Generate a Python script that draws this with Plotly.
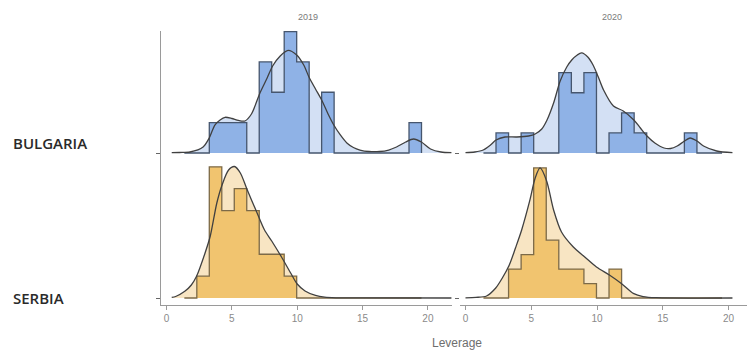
import plotly.graph_objects as go

W, H = 747, 355

# ---------------- data ----------------
years = ["2019", "2020"]
countries = ["BULGARIA", "SERBIA"]

bin_edges = [1.365, 2.32, 3.275, 4.23, 5.185, 6.14, 7.095, 8.05, 9.005, 9.96,
             10.915, 11.87, 12.825, 13.78, 14.735, 15.69, 16.645, 17.6, 18.555, 19.51]
bin_width = 0.955

bulgaria_2019_counts = [0, 0, 1, 1, 1, 0, 3, 2, 4, 3, 0, 2, 0, 0, 0, 0, 0, 0, 1]
bulgaria_2020_counts = [0, 1, 0, 1, 0, 0, 4, 3, 4, 0, 1, 2, 1, 0, 0, 0, 1, 0, 0]
serbia_2019_counts = [0, 1, 6, 4, 5, 4, 2, 2, 1, 0, 0, 0, 0, 0, 0, 0, 0, 0, 0]
serbia_2020_counts = [0, 0, 2, 3, 9, 4, 2, 2, 1, 0, 2, 0, 0, 0, 0, 0, 0, 0, 0]

bulgaria_2019_dx = [0.4, 1.0, 1.8, 2.8, 3.27, 3.7, 4.1, 4.48, 5.0, 5.5, 6.0, 6.5, 7.15, 7.7,
                    8.12, 8.7, 9.3, 9.96, 10.5, 10.9, 11.4, 11.87, 12.4, 12.8, 13.3, 13.8,
                    14.3, 14.8, 15.5, 16.3, 17.0, 17.6, 18.3, 18.9, 19.5, 20.2, 21.0, 21.8]
bulgaria_2019_dy = [0.0006, 0.001, 0.0019, 0.0115, 0.0287, 0.0536, 0.0632, 0.0684, 0.0661,
                    0.0623, 0.0613, 0.0747, 0.115, 0.1437, 0.1667, 0.1858, 0.1966, 0.1877,
                    0.1686, 0.1456, 0.1226, 0.1015, 0.0728, 0.0536, 0.0345, 0.0192, 0.0105,
                    0.0057, 0.0029, 0.0029, 0.0057, 0.0115, 0.0211, 0.0268, 0.0211, 0.0077,
                    0.0019, 0.0006]

bulgaria_2020_dx = [0.0, 0.7, 1.35, 1.9, 2.32, 3.0, 3.9, 4.8, 5.3, 5.8, 6.2, 6.7, 7.2, 7.7,
                    8.08, 8.5, 8.83, 9.3, 9.7, 10.1, 10.5, 11.25, 12.0, 12.8, 13.3, 13.8,
                    14.4, 15.1, 15.6, 16.1, 16.6, 17.07, 17.6, 18.1, 19.1, 20.3]
bulgaria_2020_dy = [0.0009, 0.0029, 0.0087, 0.0232, 0.0377, 0.0464, 0.0464, 0.0493, 0.0551,
                    0.0696, 0.0957, 0.1449, 0.2087, 0.2493, 0.2696, 0.2841, 0.2899, 0.2783,
                    0.2551, 0.2203, 0.1826, 0.1362, 0.1217, 0.0957, 0.0725, 0.0493, 0.029,
                    0.0145, 0.013, 0.0203, 0.0333, 0.0435, 0.0348, 0.0203, 0.0058, 0.0009]

serbia_2019_dx = [0.4, 0.7, 1.4, 1.9, 2.3, 2.95, 3.35, 3.85, 4.25, 4.75, 5.2, 5.65, 6.15, 6.9,
                  7.5, 8.05, 8.8, 9.5, 10.0, 10.6, 11.4, 12.1, 13.0, 15.0, 21.8]
serbia_2019_dy = [0.001, 0.0029, 0.0128, 0.0249, 0.0416, 0.0862, 0.1188, 0.182, 0.2165,
                  0.2452, 0.2519, 0.2395, 0.2088, 0.1648, 0.1303, 0.1092, 0.0785, 0.0479,
                  0.0268, 0.0134, 0.0048, 0.0015, 0.0004, 0.0001, 0.0]

serbia_2020_dx = [0.0, 0.8, 1.6, 2.3, 2.8, 3.33, 3.8, 4.27, 4.9, 5.3, 5.67, 6.17, 6.7, 7.3,
                  8.2, 9.07, 9.96, 10.97, 11.9, 12.8, 13.5, 14.5, 20.3]
serbia_2020_dy = [0.0006, 0.0017, 0.0058, 0.029, 0.058, 0.0957, 0.1449, 0.1971, 0.2841,
                  0.3478, 0.3768, 0.3391, 0.2551, 0.1913, 0.1478, 0.1188, 0.0899, 0.0658,
                  0.0406, 0.0125, 0.0043, 0.0009, 0.0]

x_ticks = [0, 5, 10, 15, 20]

# ---------------- style ----------------
panel_scale = {"2019": 3.60, "2020": 2.38}   # ridge height per density unit
baseline = {"BULGARIA": 1.0, "SERBIA": 0.0}
colors = {
    "BULGARIA": dict(light="#d3e0f4", mid="#8fb2e6", edge="#46566e"),
    "SERBIA": dict(light="#f8e5c3", mid="#f1c46f", edge="#7c6a48"),
}
dens_line = "#404040"

groups = {
    ("BULGARIA", "2019"): (bulgaria_2019_counts, bulgaria_2019_dx, bulgaria_2019_dy),
    ("BULGARIA", "2020"): (bulgaria_2020_counts, bulgaria_2020_dx, bulgaria_2020_dy),
    ("SERBIA", "2019"): (serbia_2019_counts, serbia_2019_dx, serbia_2019_dy),
    ("SERBIA", "2020"): (serbia_2020_counts, serbia_2020_dx, serbia_2020_dy),
}

fig = go.Figure()

for ci, country in enumerate(countries):
    for yi, year in enumerate(years):
        counts, dx, dy = groups[(country, year)]
        xa = "x" if yi == 0 else "x2"
        ya = "y" if yi == 0 else "y2"
        b = baseline[country]
        s = panel_scale[year]
        c = colors[country]
        n = sum(counts)

        # density fill
        fig.add_trace(go.Scatter(x=[dx[0], dx[-1]], y=[b, b], mode="lines",
                                 line=dict(width=0, color="rgba(0,0,0,0)"),
                                 xaxis=xa, yaxis=ya, showlegend=False, hoverinfo="skip"))
        fig.add_trace(go.Scatter(x=dx, y=[b + v * s for v in dy], mode="lines",
                                 line=dict(width=0, shape="spline", smoothing=0.8,
                                           color="rgba(0,0,0,0)"),
                                 fill="tonexty", fillcolor=c["light"],
                                 xaxis=xa, yaxis=ya, showlegend=False, hoverinfo="skip"))
        # histogram
        hts = [b + k / (n * bin_width) * s for k in counts] + [b]
        fig.add_trace(go.Scatter(x=[bin_edges[0], bin_edges[-1]], y=[b, b], mode="lines",
                                 line=dict(width=0, color="rgba(0,0,0,0)"),
                                 xaxis=xa, yaxis=ya, showlegend=False, hoverinfo="skip"))
        fig.add_trace(go.Scatter(x=bin_edges, y=hts, mode="lines",
                                 line=dict(width=1.3, shape="hv", color=c["edge"]),
                                 fill="tonexty", fillcolor=c["mid"],
                                 xaxis=xa, yaxis=ya, showlegend=False, hoverinfo="skip"))
        # density line
        fig.add_trace(go.Scatter(x=dx, y=[b + v * s for v in dy], mode="lines",
                                 line=dict(width=1.3, shape="spline", smoothing=0.8,
                                           color=dens_line),
                                 xaxis=xa, yaxis=ya, showlegend=False, hoverinfo="skip"))

axis_col = "#9a9a9a"
tick_font = dict(family="Liberation Sans, Arial, sans-serif", size=10, color="#8a8a8a")

x1_dom = [161 / W, 452 / W]
x2_dom = [460 / W, 1.0]
y_dom = [1 - 305 / H, 1 - 31 / H]
y_rng = [(298 - 305) / 145, (298 - 31) / 145]

fig.update_layout(
    width=W, height=H, autosize=False,
    margin=dict(l=0, r=0, t=0, b=0),
    paper_bgcolor="white", plot_bgcolor="white",
    xaxis=dict(domain=x1_dom, range=[(161 - 166.5) / 13.07, (452 - 166.5) / 13.07],
               tickvals=x_ticks, ticktext=[str(t) for t in x_ticks],
               ticks="outside", ticklen=4, tickcolor=axis_col, tickfont=tick_font,
               showline=True, linecolor=axis_col, linewidth=1.2, showgrid=False,
               zeroline=False, anchor="y"),
    xaxis2=dict(domain=x2_dom, range=[(460 - 465.5) / 13.15, (747 - 465.5) / 13.15],
                tickvals=x_ticks, ticktext=[str(t) for t in x_ticks],
                ticks="outside", ticklen=4, tickcolor=axis_col, tickfont=tick_font,
                showline=True, linecolor=axis_col, linewidth=1.2, showgrid=False,
                zeroline=False, anchor="y2"),
    yaxis=dict(domain=y_dom, range=y_rng, tickvals=[0, 1], ticktext=["", ""],
               ticks="outside", ticklen=4, tickcolor="#666", showline=True,
               linecolor=axis_col, linewidth=1.2, showgrid=False, zeroline=False,
               anchor="x"),
    yaxis2=dict(domain=y_dom, range=y_rng, tickvals=[0, 1], ticktext=["", ""],
                ticks="outside", ticklen=4, tickcolor="#666", showline=False,
                showgrid=False, zeroline=False, anchor="x2"),
)

label_font = dict(family="Open Sans, sans-serif", size=15, color="#2a2a2a", weight=600)
fig.add_annotation(text="BULGARIA", x=11 / W, y=1 - 143 / H, xref="paper", yref="paper",
                   xanchor="left", yanchor="middle", showarrow=False, font=label_font)
fig.add_annotation(text="SERBIA", x=11 / W, y=1 - 298 / H, xref="paper", yref="paper",
                   xanchor="left", yanchor="middle", showarrow=False, font=label_font)

title_font = dict(family="Liberation Sans, Arial, sans-serif", size=9, color="#7a7a7a")
fig.add_annotation(text=years[0], x=308 / W, y=1 - 17 / H, xref="paper", yref="paper",
                   xanchor="center", yanchor="middle", showarrow=False, font=title_font)
fig.add_annotation(text=years[1], x=612 / W, y=1 - 17 / H, xref="paper", yref="paper",
                   xanchor="center", yanchor="middle", showarrow=False, font=title_font)
fig.add_annotation(text="Leverage", x=457 / W, y=1 - 343 / H, xref="paper", yref="paper",
                   xanchor="center", yanchor="middle", showarrow=False,
                   font=dict(family="Liberation Sans, Arial, sans-serif", size=12,
                             color="#6e6e6e"))

fig.write_html("out.html", config={"displayModeBar": False},
               post_script="document.body.style.margin='0';")
